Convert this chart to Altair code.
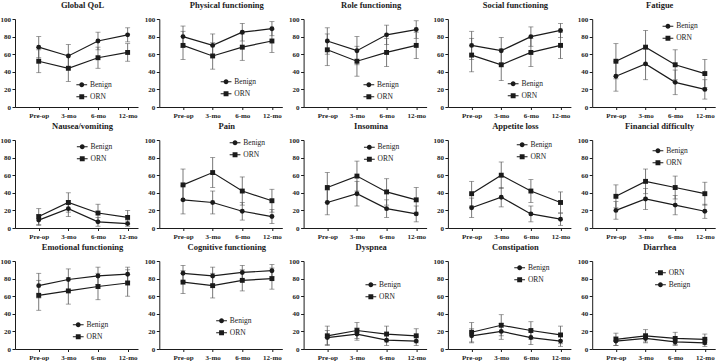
import json

import altair as alt
import pandas as pd

# EORTC QLQ-C30 scores over follow-up, benign tumour vs ORN patients (mean ± SD)
CATEGORIES = ["Pre-op", "3-mo", "6-mo", "12-mo"]

TITLES = [
    "Global QoL", "Physical functioning", "Role functioning", "Social functioning", "Fatigue",
    "Nausea/vomiting", "Pain", "Insomina", "Appetite loss", "Financial difficulty",
    "Emotional functioning", "Cognitive functioning", "Dyspnea", "Constipation", "Diarrhea",
]

BENIGN_MEAN = [
    [68, 58, 75, 82], [80, 70, 85, 89], [75, 64, 82, 88], [70, 64, 80, 87], [35, 49, 28, 20],
    [9, 22, 7, 5], [32, 29, 19, 13], [29, 39, 22, 16], [23, 35, 16, 10], [20, 33, 26, 19],
    [72, 79, 83, 85], [86, 83, 87, 89], [13, 17, 10, 9], [15, 20, 13, 9], [9, 12, 8, 7],
]
BENIGN_SD = [
    [12, 13, 10, 8], [12, 13, 10, 8], [15, 16, 11, 10], [16, 15, 11, 8], [17, 18, 14, 11],
    [6, 9, 5, 3], [16, 13, 10, 8], [14, 14, 10, 9], [11, 11, 9, 7], [10, 12, 11, 8],
    [14, 12, 10, 8], [9, 10, 8, 7], [8, 7, 6, 5], [8, 9, 8, 6], [5, 5, 4, 4],
]
ORN_MEAN = [
    [52, 44, 56, 62], [70, 58, 68, 75], [65, 52, 62, 70], [59, 48, 62, 70], [52, 68, 48, 38],
    [13, 29, 17, 12], [49, 63, 42, 31], [46, 59, 41, 32], [39, 60, 42, 29], [36, 53, 46, 39],
    [61, 66, 71, 75], [76, 72, 78, 80], [15, 21, 17, 15], [19, 27, 21, 16], [11, 15, 12, 11],
]
ORN_SD = [
    [13, 15, 12, 10], [16, 15, 15, 13], [18, 17, 16, 15], [19, 18, 16, 15], [20, 19, 17, 16],
    [9, 11, 10, 8], [18, 17, 16, 13], [17, 17, 15, 14], [14, 15, 13, 12], [13, 14, 13, 13],
    [17, 15, 15, 15], [13, 14, 12, 12], [11, 9, 9, 8], [11, 12, 10, 10], [7, 7, 7, 6],
]

# legend anchor (px inside the plot area) and entry order for each panel
LEGEND_POS = [
    (63, 62), (63, 59), (61.5, 62), (61.5, 61), (72, 3.5),
    (63.5, 3), (72, -1), (62, 3.5), (70.5, 1), (62, 7),
    (59.5, 60), (58.5, 56), (63.5, 20), (68, 3), (64.5, 8),
]
LEGEND_ORDER = [["Benign", "ORN"]] * 14 + [["ORN", "Benign"]]

INK = "#1b1b1b"
BAR = "#555555"
SERIF = "Liberation Serif, Times New Roman, serif"

# legend glyphs: marker with a thin bar through it (all filled, same winding)
CIRCLE_KEY = "M-2.2,-0.22H2.2V0.22H-2.2Z M1,0A1,1 0 1,1 -1,0A1,1 0 1,1 1,0Z"
SQUARE_KEY = "M-2.2,-0.22H2.2V0.22H-2.2Z M-1,-1H1V1H-1Z"
KEY_GLYPH = {"Benign": CIRCLE_KEY, "ORN": SQUARE_KEY}
MARKER = {"Benign": "circle", "ORN": "square"}

PLOT_W, PLOT_H = 123, 88

label_expr = f"{json.dumps(CATEGORIES)}[datum.value]"


def panel(i):
    rows = []
    for series, means, sds in (("Benign", BENIGN_MEAN[i], BENIGN_SD[i]),
                               ("ORN", ORN_MEAN[i], ORN_SD[i])):
        for k, cat in enumerate(CATEGORIES):
            m, s = means[k], sds[k]
            rows.append({"step": k, "visit": cat, "series": series, "mean": m,
                         "lo": max(m - s, 0), "hi": min(m + s, 100)})
    df = pd.DataFrame(rows)

    x = alt.X("step:Q",
              scale=alt.Scale(domain=[-0.8, 3.35], nice=False, zero=False),
              axis=alt.Axis(values=list(range(len(CATEGORIES))), labelExpr=label_expr,
                            title=None, grid=False, tickSize=2.5, labelPadding=2,
                            labelOverlap=False, labelFlush=False))
    yscale = alt.Scale(domain=[0, 100], nice=False, zero=True)
    yaxis = alt.Axis(values=[0, 20, 40, 60, 80, 100], title=None, grid=False,
                     tickSize=3, labelPadding=1.5, labelOverlap=False, labelFlush=False)

    def y(field):
        return alt.Y(field, scale=yscale, axis=yaxis)

    base = alt.Chart(df).encode(x=x)

    whiskers = base.mark_rule(color=BAR, strokeWidth=0.8).encode(
        y=y("lo:Q"), y2="hi:Q", detail="series:N")
    caps = base.transform_fold(["lo", "hi"], as_=["end", "val"]).mark_tick(
        orient="horizontal", color=BAR, size=5, thickness=0.8).encode(y=y("val:Q"))
    lines = base.mark_line(color=INK, strokeWidth=1.2).encode(
        y=y("mean:Q"), detail="series:N")

    order = LEGEND_ORDER[i]
    points = base.mark_point(filled=True, size=24, color=INK, opacity=1).encode(
        y=y("mean:Q"),
        shape=alt.Shape("series:N",
                        scale=alt.Scale(domain=order, range=[MARKER[s] for s in order]),
                        legend=None))

    # legend-only layer (no rows drawn): its shape scale carries the keyed glyphs
    lx, ly = LEGEND_POS[i]
    key = base.transform_filter("false").mark_point(
        filled=True, color=INK, size=24, opacity=1).encode(
        y=y("mean:Q"),
        shape=alt.Shape("series:N",
                        scale=alt.Scale(domain=order, range=[KEY_GLYPH[s] for s in order]),
                        legend=alt.Legend(orient="none", legendX=lx, legendY=ly,
                                          direction="vertical", title=None,
                                          labelFont=SERIF, labelFontSize=7.5,
                                          labelColor=INK, labelOffset=4.5,
                                          symbolSize=24, symbolFillColor=INK,
                                          rowPadding=0, padding=0)))

    return alt.layer(whiskers, caps, lines, points, key).resolve_scale(
        shape="independent").properties(
        width=PLOT_W, height=PLOT_H,
        title=alt.TitleParams(TITLES[i], font=SERIF, fontSize=8.5, fontWeight="bold",
                              color=INK, offset=6, anchor="middle", dx=6),
    )


def row(r):
    return alt.hconcat(*[panel(r * 5 + c) for c in range(5)], spacing=6.3).resolve_scale(
        shape="independent").resolve_legend(shape="independent")


chart = (
    alt.vconcat(row(0), row(1), row(2), spacing=2)
    .resolve_scale(shape="independent")
    .resolve_legend(shape="independent")
    .properties(padding={"left": 0, "top": 0, "right": 2, "bottom": 0}, background="white")
    .configure_view(stroke=None)
    .configure_axis(domainColor=INK, domainWidth=1, tickColor=INK, tickWidth=1,
                    labelFont=SERIF, labelFontSize=7, labelFontWeight="bold",
                    labelColor=INK)
)

chart.save("out.html", embed_options={"renderer": "svg", "actions": False})
